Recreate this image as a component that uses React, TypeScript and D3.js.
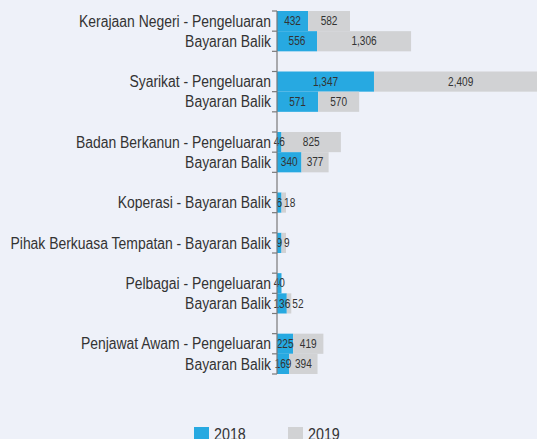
import React, { useRef, useEffect } from "react";
import * as d3 from "d3";

// rows top to bottom, "" = blank spacer row
const ROW_LABELS = [
  "Kerajaan Negeri - Pengeluaran",
  "Bayaran Balik",
  "",
  "Syarikat - Pengeluaran",
  "Bayaran Balik",
  "",
  "Badan Berkanun - Pengeluaran",
  "Bayaran Balik",
  "",
  "Koperasi - Bayaran Balik",
  "",
  "Pihak Berkuasa Tempatan - Bayaran Balik",
  "",
  "Pelbagai - Pengeluaran",
  "Bayaran Balik",
  "",
  "Penjawat Awam - Pengeluaran",
  "Bayaran Balik",
];

const VALUES_2018 = [432, 556, null, 1347, 571, null, 46, 340, null, 6, null, 9, null, 40, 136, null, 225, 169];
const VALUES_2019 = [582, 1306, null, 2409, 570, null, 825, 377, null, 18, null, 9, null, null, 52, null, 419, 394];

const SERIES = ["2018", "2019"];
const COLORS = ["#27a9e1", "#d1d2d4"];

const WIDTH = 537;
const HEIGHT = 439;
const FONT = "'Liberation Sans', Arial, sans-serif";

// squeeze Arial-metric text so it reads like a narrow face
function condense(t: d3.Selection<SVGTextElement, unknown, null, undefined>, k: number) {
  const w = (t.node() as SVGTextElement).getComputedTextLength();
  t.attr("textLength", w * k).attr("lengthAdjust", "spacingAndGlyphs");
  return w * k;
}

export default function App() {
  const svgRef = useRef<SVGSVGElement>(null);

  useEffect(() => {
    document.body.style.margin = "0";
    document.body.style.background = "#eef1f9";
    if (!svgRef.current) return;
    const svg = d3.select(svgRef.current);
    svg.selectAll("*").remove();

    svg.append("rect").attr("width", WIDTH).attr("height", HEIGHT).attr("fill", "#eef1f9");

    const axisX = 277;
    const x = d3.scaleLinear().domain([0, 3000]).range([axisX, axisX + 216]);
    const y = d3
      .scaleBand<number>()
      .domain(d3.range(ROW_LABELS.length))
      .range([11, 374])
      .padding(0);

    const g = svg.append("g");

    // bars, stacked; tiny values get a minimum width
    const minW = 4.5;
    const labels: { x: number; y: number; text: string }[][] = [];
    ROW_LABELS.forEach((_, i) => {
      let pos = x(0);
      const rowLabels: { x: number; y: number; text: string }[] = [];
      [VALUES_2018[i], VALUES_2019[i]].forEach((v, s) => {
        if (v == null) return;
        const w = Math.max(x(v) - x(0), minW);
        g.append("rect")
          .attr("x", pos)
          .attr("y", y(i)!)
          .attr("width", w)
          .attr("height", y.bandwidth())
          .attr("fill", COLORS[s]);
        rowLabels.push({ x: pos + w / 2, y: y(i)! + y.bandwidth() / 2, text: d3.format(",")(v) });
        pos += w;
      });
      labels.push(rowLabels);
    });

    // value labels, pushed right when they would overlap
    labels.forEach((row) => {
      let prevRight = -Infinity;
      row.forEach((l) => {
        const t = g
          .append("text")
          .attr("y", l.y)
          .attr("dy", "0.35em")
          .attr("text-anchor", "middle")
          .style("font-family", FONT)
          .style("font-size", "12px")
          .style("fill", "#333")
          .text(l.text);
        const tw = condense(t, 0.84);
        let cx = l.x;
        if (cx - tw / 2 < prevRight + 2) cx = prevRight + 2 + tw / 2;
        t.attr("x", cx);
        prevRight = cx + tw / 2;
      });
    });

    // axis
    const boundaries = d3.range(ROW_LABELS.length + 1).map((i) => 11 + i * y.step());
    g.append("line")
      .attr("x1", axisX)
      .attr("x2", axisX)
      .attr("y1", boundaries[0])
      .attr("y2", boundaries[boundaries.length - 1])
      .attr("stroke", "#7a7a7a")
      .attr("stroke-width", 1.2);
    g.selectAll(".tick")
      .data(boundaries)
      .join("line")
      .attr("x1", axisX - 5)
      .attr("x2", axisX)
      .attr("y1", (d) => d)
      .attr("y2", (d) => d)
      .attr("stroke", "#7a7a7a")
      .attr("stroke-width", 1.2);

    // category labels
    ROW_LABELS.forEach((lab, i) => {
      if (!lab) return;
      const t = g
        .append("text")
        .attr("x", axisX - 6)
        .attr("y", y(i)! + y.bandwidth() / 2)
        .attr("dy", "0.35em")
        .attr("text-anchor", "end")
        .style("font-family", FONT)
        .style("font-size", "16px")
        .style("fill", "#333")
        .text(lab);
      condense(t, 0.87);
    });

    // legend
    const legendX = [194, 288];
    SERIES.forEach((s, i) => {
      svg.append("rect")
        .attr("x", legendX[i])
        .attr("y", 427)
        .attr("width", 15)
        .attr("height", 15)
        .attr("fill", COLORS[i]);
      const t = svg.append("text")
        .attr("x", legendX[i] + 20)
        .attr("y", 439.5)
        .style("font-family", FONT)
        .style("font-size", "17px")
        .style("fill", "#333")
        .text(s);
      condense(t, 0.84);
    });
  }, []);

  return <svg ref={svgRef} width={WIDTH} height={HEIGHT} style={{ display: "block" }} />;
}
